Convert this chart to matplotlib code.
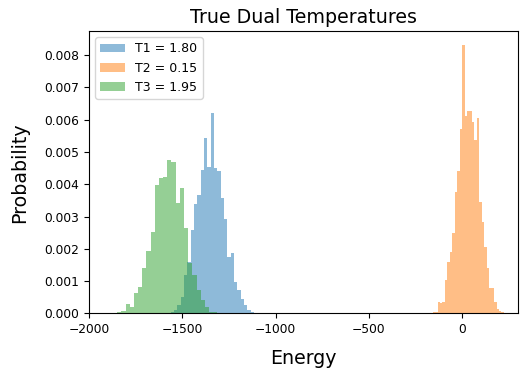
import numpy as np
import matplotlib
matplotlib.use("Agg")
import matplotlib.pyplot as plt

# histogram data (density, in units of 1e-3)
labels = ["T1 = 1.80", "T2 = 0.15", "T3 = 1.95"]

t1_start, t1_width = -1562.8, 17.9
t1_heights = [0.05, 0.12, 0.26, 0.51, 1.19, 1.6, 2.58, 3.38, 3.66, 4.44, 5.44, 4.54, 6.19,
              4.49, 4.41, 3.58, 2.92, 1.75, 1.86, 0.98, 0.72, 0.46, 0.26, 0.1, 0.05, 0.02]

t2_start, t2_width = -158.0, 13.2
t2_heights = [0.03, 0.05, 0.36, 0.31, 0.36, 1.03, 1.6, 1.9, 2.48, 3.75, 4.4, 5.72, 8.3,
              6.1, 6.27, 6.27, 5.93, 5.37, 6.04, 3.46, 2.84, 2.06, 1.4, 0.8, 0.8, 0.36,
              0.15, 0.08, 0.03]

t3_start, t3_width = -1850.0, 22.4
t3_heights = [0.05, 0.07, 0.29, 0.2, 0.62, 0.82, 1.42, 1.94, 2.53, 3.97, 4.18, 4.23, 4.75,
              4.69, 3.41, 3.87, 2.63, 1.55, 1.19, 0.72, 0.41, 0.2, 0.05, 0.04]

series = [(t1_start, t1_width, t1_heights),
          (t2_start, t2_width, t2_heights),
          (t3_start, t3_width, t3_heights)]

fig = plt.figure(figsize=(5.28, 3.79), dpi=100)
ax = fig.add_axes([0.169, 0.173, 0.812, 0.745])

for (start, width, h), lab in zip(series, labels):
    h = np.array(h) * 1e-3
    edges = start + width * np.arange(len(h) + 1)
    ax.hist(edges[:-1], bins=edges, weights=h, alpha=0.5, label=lab)

ax.set_xlim(-2000, 300)
ax.set_ylim(0, 0.00874)
ax.set_xticks([-2000, -1500, -1000, -500, 0])
ax.set_yticks(np.arange(0, 0.0081, 0.001))
ax.yaxis.set_major_formatter(matplotlib.ticker.FormatStrFormatter("%.3f"))
ax.tick_params(labelsize=8.8)

ax.set_title("True Dual Temperatures", fontsize=13.7)
ax.set_xlabel("Energy", fontsize=13.7, labelpad=9)
ax.set_ylabel("Probability", fontsize=13.7, labelpad=11)
ax.legend(loc="upper left", fontsize=9)

fig.savefig("out.png", dpi=100)
